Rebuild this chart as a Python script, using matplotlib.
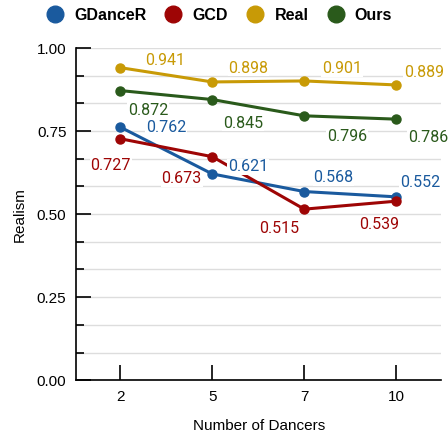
import numpy as np
import matplotlib.pyplot as plt
from matplotlib.lines import Line2D
from matplotlib.ticker import MultipleLocator

# Realism vs number of dancers, four methods
dancers = ["2", "5", "7", "10"]
gdancer = [0.762, 0.621, 0.568, 0.552]
gcd = [0.727, 0.673, 0.515, 0.539]
real = [0.941, 0.898, 0.901, 0.889]
ours = [0.872, 0.845, 0.796, 0.786]

names = ["GDanceR", "GCD", "Real", "Ours"]
colors = ["#1A5A9E", "#9E0505", "#C89A06", "#2A5A1B"]
series = [gdancer, gcd, real, ours]

# label offsets in points (dx, dy) relative to each marker
offsets = [
    [(33, 0), (26, 5), (21, 10), (17, 10)],
    [(-7, -19), (-22, -16), (-18, -14), (-12, -17)],
    [(32, 5), (26, 10), (27, 9), (20, 9)],
    [(20, -14), (22, -17), (31, -15), (23, -13)],
]

fig = plt.figure(figsize=(4.48, 4.37), dpi=100)
ax = fig.add_axes([0.17, 0.13, 0.815, 0.76])
x = np.arange(len(dancers))

for name, col, vals, offs in zip(names, colors, series, offsets):
    ax.plot(x, vals, color=col, linewidth=2.2, marker="o", markersize=6.5, zorder=3)
    for xi, v, (dx, dy) in zip(x, vals, offs):
        ax.annotate(f"{v:.3f}", (xi, v), xytext=(dx, dy), textcoords="offset points",
                    ha="center", va="center", fontsize=11.5, color=col, family="Roboto",
                    bbox=dict(boxstyle="square,pad=0.05", fc="white", ec="none"), zorder=4)

ax.set_xlim(-0.48, 3.49)
ax.set_ylim(0, 1.0)
ax.set_xticks(x)
ax.set_xticklabels(dancers)
ax.yaxis.set_major_locator(MultipleLocator(0.25))
ax.yaxis.set_minor_locator(MultipleLocator(0.25 / 3))
ax.set_yticklabels([f"{t:.2f}" for t in ax.get_yticks()])
ax.grid(True, which="both", axis="y", color="#DDDDDD", linewidth=1, zorder=0)
ax.tick_params(axis="both", which="major", direction="in", length=11, width=1.2,
               labelsize=11, pad=7)
ax.tick_params(axis="y", which="minor", direction="in", length=6, width=1.2)
for s in ["top", "right"]:
    ax.spines[s].set_visible(False)
for s in ["left", "bottom"]:
    ax.spines[s].set_linewidth(1.2)
ax.set_xlabel("Number of Dancers", fontsize=11, labelpad=11)
ax.set_ylabel("Realism", fontsize=11, labelpad=7)
for lbl in ax.get_xticklabels() + ax.get_yticklabels():
    lbl.set_family("Liberation Sans")
ax.xaxis.label.set_family("Liberation Sans")
ax.yaxis.label.set_family("Liberation Sans")

handles = [Line2D([], [], marker="o", linestyle="none", color=c, markersize=12) for c in colors]
fig.legend(handles, names, loc="upper center", bbox_to_anchor=(0.49, 1.015), ncol=4,
           frameon=False, handlelength=1.0, handletextpad=0.7, columnspacing=1.2,
           prop={"family": "Liberation Sans", "weight": "bold", "size": 11.5})

fig.savefig("out.png", dpi=100)
